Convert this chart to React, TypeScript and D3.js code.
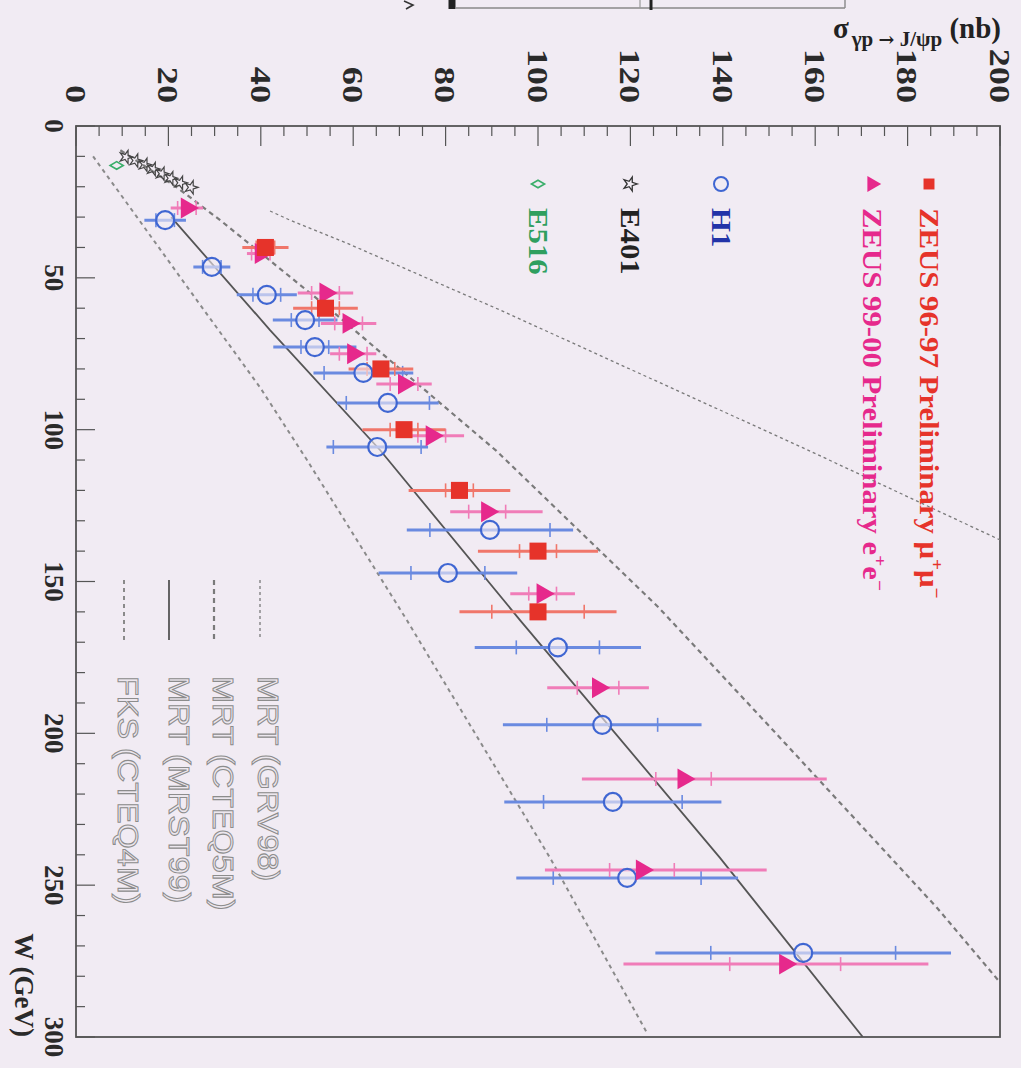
import React from 'react';
import * as d3 from 'd3';

// ---- axis ticks ----
const W_TICKS = [0, 50, 100, 150, 200, 250, 300];
const SIGMA_TICKS = [0, 20, 40, 60, 80, 100, 120, 140, 160, 180, 200];

// ---- ZEUS 96-97 Preliminary (mu+ mu-) ----
const zeus96W = [40, 60, 80, 100, 120, 140, 160];
const zeus96Sigma = [41, 54, 66, 71, 83, 100, 100];
const zeus96Stat = [2, 3, 3, 3, 3, 4, 10];
const zeus96TotLo = [5, 7, 7, 9, 11, 13, 17];
const zeus96TotHi = [5, 7, 7, 9, 11, 13, 17];

// ---- ZEUS 99-00 Preliminary (e+ e-) ----
const zeus99W = [27, 42, 55, 65, 75, 85, 102, 127, 154, 185, 215, 245, 276];
const zeus99Sigma = [24, 40, 54, 59, 60, 71, 77, 89, 101, 113, 131.5, 122.5, 153.5];
const zeus99Stat = [2, 2, 3, 3, 3, 3, 3, 4, 3, 4.5, 6, 7, 12];
const zeus99TotLo = [3.5, 3, 6, 6, 5, 6, 7, 8, 7, 11, 22, 21, 35];
const zeus99TotHi = [3.5, 3, 6, 6, 5, 6, 7, 12, 7, 11, 31, 27, 31];

// ---- H1 ----
const h1W = [31, 46.4, 55.6, 63.9, 72.8, 81.3, 91.2, 105.7, 133, 147.2, 171.7, 197.2, 222.6, 247.6, 272.3];
const h1Sigma = [19.3, 29.4, 41.3, 49.6, 51.7, 62.2, 67.5, 65.2, 89.6, 80.5, 104.3, 113.9, 116.2, 119.3, 157.4];
const h1Stat = [2, 2, 3, 3, 3, 8.5, 9, 9.5, 13, 8, 9, 12, 15, 16, 20];
const h1Tot = [4.5, 4, 6.5, 7, 9, 10.8, 11, 11, 18, 15, 18, 21.5, 23.5, 24, 32];

// ---- E401 ----
const e401W = [10.2, 11.4, 12.8, 14.2, 15.7, 17.2, 18.7, 20.2];
const e401Sigma = [10.8, 12.9, 14.9, 16.7, 18.6, 20.5, 22.6, 24.9];

// ---- E516 ----
const e516W = [13];
const e516Sigma = [8.8];

// ---- theory curves: [W (GeV), sigma (nb)] ----
const mrtGrv98 = [[28, 42], [31, 46.3], [38.5, 58.5], [60.6, 91.8], [106, 157.4], [136.3, 200]];
const mrtCteq5m = [[8, 9.6], [15, 16.7], [20.4, 22], [31, 31.2], [60, 54.7], [107, 91], [158.4, 126], [200, 151.5], [257.5, 186.4], [282, 200]];
const mrtMrst99 = [[30, 20.6], [33.3, 22.5], [67.2, 42], [106.7, 65.8], [162.7, 96.1], [241, 139.4], [300, 170.3]];
const fksCteq4m = [[10, 3.7], [30, 13.2], [49.7, 22.5], [86, 39.8], [110, 50], [162.7, 71.6], [241, 102.6], [298.7, 123.6]];

const BG = '#f1ebf3';
const SERIF = '"Liberation Serif", "DejaVu Serif", serif';
const SANS = '"Liberation Sans", Arial, sans-serif';

const C_ZEUS96 = '#e6332a';
const C_ZEUS96_BAR = '#f0766a';
const C_ZEUS99 = '#e6298c';
const C_ZEUS99_BAR = '#f07cb8';
const C_H1 = '#3f66d2';
const C_H1_BAR = '#6a8ae0';

type Pt = { w: number; s: number; stat: number; lo: number; hi: number };

function zip(w: number[], s: number[], stat: number[], lo: number[], hi: number[]): Pt[] {
  return w.map((v, i) => ({ w: v, s: s[i], stat: stat[i], lo: lo[i], hi: hi[i] }));
}

export default function App() {
  // plot drawn in its natural orientation, then turned a quarter turn clockwise
  const x = d3.scaleLinear().domain([0, 300]).range([126, 1037]);
  const y = d3.scaleLinear().domain([0, 200]).range([945, 21]);

  const line = d3
    .line<number[]>()
    .x((d) => x(d[0]))
    .y((d) => y(d[1]));

  const sym = (type: d3.SymbolType, size: number) => d3.symbol().type(type).size(size)() as string;

  const zeus96 = zip(zeus96W, zeus96Sigma, zeus96Stat, zeus96TotLo, zeus96TotHi);
  const zeus99 = zip(zeus99W, zeus99Sigma, zeus99Stat, zeus99TotLo, zeus99TotHi);
  const h1 = zip(h1W, h1Sigma, h1Stat, h1Tot, h1Tot);

  const errBars = (pts: Pt[], color: string, key: string) =>
    pts.map((p, i) => {
      const cx = x(p.w);
      return (
        <g key={`${key}-${i}`} stroke={color}>
          <line x1={cx} x2={cx} y1={y(p.s - p.lo)} y2={y(p.s + p.hi)} strokeWidth={3} />
          <line x1={cx - 7} x2={cx + 7} y1={y(p.s - p.stat)} y2={y(p.s - p.stat)} strokeWidth={1.6} />
          <line x1={cx - 7} x2={cx + 7} y1={y(p.s + p.stat)} y2={y(p.s + p.stat)} strokeWidth={1.6} />
        </g>
      );
    });

  const wMinor = d3.range(0, 301, 10);
  const sMinor = d3.range(0, 201, 5);

  const legend1 = [
    { v: 92, color: C_ZEUS96, marker: 'square', parts: ['ZEUS 96-97 Preliminary ', 'μ', '+', 'μ', '−'] },
    { v: 149, color: C_ZEUS99, marker: 'triangle', parts: ['ZEUS 99-00 Preliminary ', 'e', '+', 'e', '−'] },
    { v: 300, color: '#2233a8', marker: 'circle', parts: ['H1'] },
    { v: 391, color: '#222222', marker: 'star', parts: ['E401'] },
    { v: 483, color: '#2f9f5f', marker: 'diamond', parts: ['E516'] },
  ];

  const legend2 = [
    { v: 761, tv: 752, label: 'MRT (GRV98)', dash: '3 3', width: 1.3, color: '#7a7a7a' },
    { v: 807, tv: 797, label: 'MRT (CTEQ5M)', dash: '5 4', width: 2.2, color: '#7a7a7a' },
    { v: 852, tv: 841, label: 'MRT (MRST99)', dash: undefined, width: 1.8, color: '#555555' },
    { v: 897, tv: 892, label: 'FKS (CTEQ4M)', dash: '4 4', width: 2, color: '#8a8a8a' },
  ];

  const legendMarker = (m: string, u: number, v: number, color: string) => {
    if (m === 'square') return <path d={sym(d3.symbolSquare, 120)} transform={`translate(${u},${v})`} fill={color} />;
    if (m === 'triangle') return <path d={sym(d3.symbolTriangle, 110)} transform={`translate(${u},${v})`} fill={color} />;
    if (m === 'circle') return <circle cx={u} cy={v} r={7} fill="none" stroke={C_H1} strokeWidth={2} />;
    if (m === 'star') return <path d={sym(d3.symbolStar, 60)} transform={`translate(${u},${v})`} fill="none" stroke="#333" strokeWidth={1.3} />;
    return <path d={sym(d3.symbolDiamond, 50)} transform={`translate(${u},${v})`} fill="none" stroke="#3aae6a" strokeWidth={1.6} />;
  };

  return (
    <svg
      width={1021}
      height={1068}
      style={{ position: 'absolute', left: 0, top: 0, background: BG }}
    >
      <rect x={0} y={0} width={1021} height={1068} fill={BG} />

      {/* edge of the neighbouring figure at the top of the page */}
      <g stroke="#555" fill="none">
        <path d="M404,1 L413,5 L406,9" strokeWidth={1.6} stroke="#333" />
        <line x1={452} x2={452} y1={0} y2={9} strokeWidth={7} stroke="#222" />
        <line x1={455} x2={845} y1={8} y2={8} strokeWidth={1.4} stroke="#888" />
        <line x1={640} x2={640} y1={0} y2={8} strokeWidth={1.2} stroke="#999" />
        <line x1={651} x2={651} y1={0} y2={10} strokeWidth={3} stroke="#222" />
        <line x1={845} x2={845} y1={0} y2={8} strokeWidth={1.4} stroke="#888" />
      </g>

      {/* sigma axis title (upright once the plot is turned) */}
      <text x={1001} y={38} textAnchor="end" fontFamily={SERIF} fontWeight="bold" fontSize={29} fill="#222">
        σ
        <tspan fontSize={21} dy={8} dx={3}>γp </tspan>
        <tspan fontSize={19} fontFamily='"DejaVu Serif", serif'>→</tspan>
        <tspan fontSize={21}> J/ψp</tspan>
        <tspan fontSize={29} dy={-8}> (nb)</tspan>
      </text>

      <g transform="translate(1021,0) rotate(90)">
        <defs>
          <clipPath id="frame-clip">
            <rect x={126} y={21} width={911} height={924} />
          </clipPath>
        </defs>

        {/* frame */}
        <rect x={126} y={21} width={911} height={924} fill="none" stroke="#555" strokeWidth={1.8} />

        {/* W axis ticks */}
        {wMinor.map((t) => (
          <line key={`wt${t}`} x1={x(t)} x2={x(t)} y1={945} y2={945 - (t % 50 === 0 ? 19 : 9)} stroke="#555" strokeWidth={1.2} />
        ))}
        {/* sigma axis ticks */}
        {sMinor.map((t) => (
          <line key={`st${t}`} y1={y(t)} y2={y(t)} x1={126} x2={126 + (t % 20 === 0 ? 20 : 10)} stroke="#555" strokeWidth={1.2} />
        ))}

        {W_TICKS.map((t) => (
          <text key={`wl${t}`} x={x(t)} y={967} dy="0.35em" textAnchor="middle" fontFamily={SERIF} fontWeight="bold" fontSize={27} fill="#2a2a2a">
            {t}
          </text>
        ))}
        {SIGMA_TICKS.map((t) => (
          <text
            key={`sl${t}`}
            transform={`translate(103,${y(t)}) scale(1.25,1)`}
            dy="0.35em"
            textAnchor="end"
            fontFamily={SERIF}
            fontWeight="bold"
            fontSize={29}
            fill="#2a2a2a"
          >
            {t}
          </text>
        ))}

        <text x={1037} y={997} dy="0.35em" textAnchor="end" fontFamily={SERIF} fontWeight="bold" fontSize={27} fill="#2a2a2a">
          W (GeV)
        </text>

        {/* theory curves */}
        <g clipPath="url(#frame-clip)" fill="none">
          <path d={line(mrtGrv98) as string} stroke="#7a7a7a" strokeWidth={1.3} strokeDasharray="3 3" />
          <path d={line(mrtCteq5m) as string} stroke="#7a7a7a" strokeWidth={2.2} strokeDasharray="5 4" />
          <path d={line(mrtMrst99) as string} stroke="#555" strokeWidth={1.8} />
          <path d={line(fksCteq4m) as string} stroke="#8a8a8a" strokeWidth={2} strokeDasharray="4 4" />
        </g>

        {/* error bars */}
        {errBars(h1, C_H1_BAR, 'h1')}
        {errBars(zeus99, C_ZEUS99_BAR, 'z99')}
        {errBars(zeus96, C_ZEUS96_BAR, 'z96')}

        {/* markers */}
        {e401W.map((w, i) => (
          <path key={`e401-${i}`} d={sym(d3.symbolStar, 55)} transform={`translate(${x(w)},${y(e401Sigma[i])})`} fill="none" stroke="#444" strokeWidth={1.2} />
        ))}
        {e516W.map((w, i) => (
          <path key={`e516-${i}`} d={sym(d3.symbolDiamond, 50)} transform={`translate(${x(w)},${y(e516Sigma[i])})`} fill="none" stroke="#3aae6a" strokeWidth={1.6} />
        ))}
        {h1.map((p, i) => (
          <circle key={`h1m-${i}`} cx={x(p.w)} cy={y(p.s)} r={9} fill={BG} fillOpacity={0.6} stroke={C_H1} strokeWidth={2.2} />
        ))}
        {zeus99.map((p, i) => (
          <path key={`z99m-${i}`} d={sym(d3.symbolTriangle, 190)} transform={`translate(${x(p.w)},${y(p.s)})`} fill={C_ZEUS99} />
        ))}
        {zeus96.map((p, i) => (
          <path key={`z96m-${i}`} d={sym(d3.symbolSquare, 290)} transform={`translate(${x(p.w)},${y(p.s)})`} fill={C_ZEUS96} />
        ))}

        {/* data legend */}
        {legend1.map((e) => (
          <g key={e.parts[0]}>
            {legendMarker(e.marker, 184, e.v, e.color)}
            <text
              transform={`translate(208,${e.v}) scale(1.14,1)`}
              dy="0.35em"
              fontFamily={SERIF}
              fontWeight="bold"
              fontSize={27}
              fill={e.color}
            >
              {e.parts.length === 1 ? (
                e.parts[0]
              ) : (
                <>
                  {e.parts[0]}
                  {e.parts[1]}
                  <tspan fontSize={17} dy={-11}>{e.parts[2]}</tspan>
                  <tspan fontSize={27} dy={11}>{e.parts[3]}</tspan>
                  <tspan fontSize={17} dy={-11}>{e.parts[4]}</tspan>
                </>
              )}
            </text>
          </g>
        ))}

        {/* theory legend */}
        {legend2.map((e) => (
          <g key={e.label}>
            <line x1={580} x2={640} y1={e.v} y2={e.v} stroke={e.color} strokeWidth={e.width} strokeDasharray={e.dash} />
            <text
              transform={`translate(676,${e.tv}) scale(1.08,1)`}
              dy="0.35em"
              fontFamily={SANS}
              fontSize={30}
              fill="#ece7ee"
              stroke="#8c8c8c"
              strokeWidth={1}
            >
              {e.label}
            </text>
          </g>
        ))}
      </g>
    </svg>
  );
}
